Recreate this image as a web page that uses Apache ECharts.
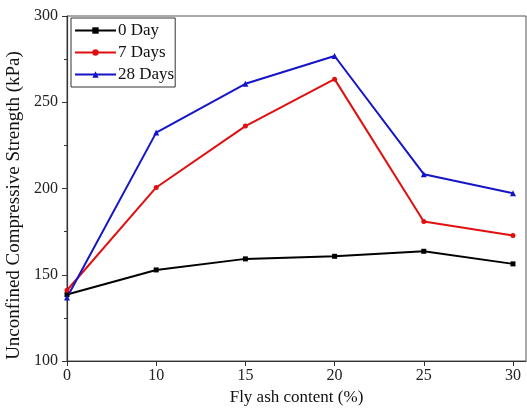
<!DOCTYPE html>
<html>
<head>
<meta charset="utf-8">
<script src="https://cdn.jsdelivr.net/npm/echarts@6/dist/echarts.min.js"></script>
<style>
html,body{margin:0;padding:0;background:#fff;}
#chart{width:527px;height:409px;}
</style>
</head>
<body>
<div id="chart"></div>
<script>
var categories = ['0', '10', '15', '20', '25', '30'];
var day0 = [138.5, 152.8, 159.2, 160.7, 163.6, 156.3];
var day7 = [141, 200.6, 236.2, 263.4, 180.9, 172.8];
var day28 = [136.8, 232.4, 260.7, 276.8, 208.3, 197.3];
var yTicks = [100, 150, 200, 250, 300];

var FONT = 'Liberation Serif';
function pairs(arr) { return arr.map(function (v, i) { return [i, v]; }); }
var idx = categories.map(function (c, i) { return i; });

var chart = echarts.init(document.getElementById('chart'), null, {renderer: 'canvas'});
chart.setOption({
  animation: false,
  backgroundColor: '#fff',
  textStyle: {fontFamily: FONT},
  grid: {left: 67, right: 1, top: 16, bottom: 48, show: true, borderColor: '#555', borderWidth: 1,
    containLabel: false, outerBoundsMode: 'none'},
  legend: {
    orient: 'vertical', left: 71, top: 18,
    padding: [4, 1, 4, 3],
    itemWidth: 41, itemHeight: 8, itemGap: 5,
    borderColor: '#333', borderWidth: 1,
    textStyle: {fontFamily: FONT, fontSize: 17, color: '#111', padding: [0, 0, 0, -3]},
    data: ['0 Day', '7 Days', '28 Days']
  },
  xAxis: {
    type: 'value', min: 0, max: 5.146,
    name: 'Fly ash content (%)', nameLocation: 'middle', nameGap: 28,
    nameTextStyle: {fontFamily: FONT, fontSize: 17, color: '#111'},
    axisLine: {lineStyle: {color: '#333', width: 1.2}},
    axisTick: {show: true, length: 5, customValues: idx, lineStyle: {color: '#333'}},
    axisLabel: {customValues: idx, fontFamily: FONT, fontSize: 16, color: '#222', margin: 7,
      formatter: function (v) { return categories[Math.round(v)]; }},
    splitLine: {show: false}
  },
  yAxis: {
    type: 'value', min: 100, max: 300, interval: 50,
    name: 'Unconfined Compressive Strength (kPa)', nameLocation: 'middle', nameGap: 43,
    nameTextStyle: {fontFamily: FONT, fontSize: 19, color: '#111', padding: [0, 34, 0, 0]},
    axisLine: {show: true, lineStyle: {color: '#333', width: 1.2}},
    axisTick: {show: true, length: 5, lineStyle: {color: '#333'}},
    minorTick: {show: true, splitNumber: 2, length: 3, lineStyle: {color: '#333'}},
    axisLabel: {fontFamily: FONT, fontSize: 16, color: '#222', margin: 9},
    splitLine: {show: false}
  },
  series: [
    {name: '0 Day', type: 'line', data: pairs(day0), symbol: 'rect', symbolSize: 5,
      lineStyle: {color: '#000', width: 2}, itemStyle: {color: '#000'}},
    {name: '7 Days', type: 'line', data: pairs(day7), symbol: 'circle', symbolSize: 5,
      lineStyle: {color: '#e01010', width: 2}, itemStyle: {color: '#e01010'}},
    {name: '28 Days', type: 'line', data: pairs(day28), symbol: 'triangle', symbolSize: 6,
      lineStyle: {color: '#1515c8', width: 2}, itemStyle: {color: '#1515c8'}}
  ]
});
</script>
</body>
</html>
